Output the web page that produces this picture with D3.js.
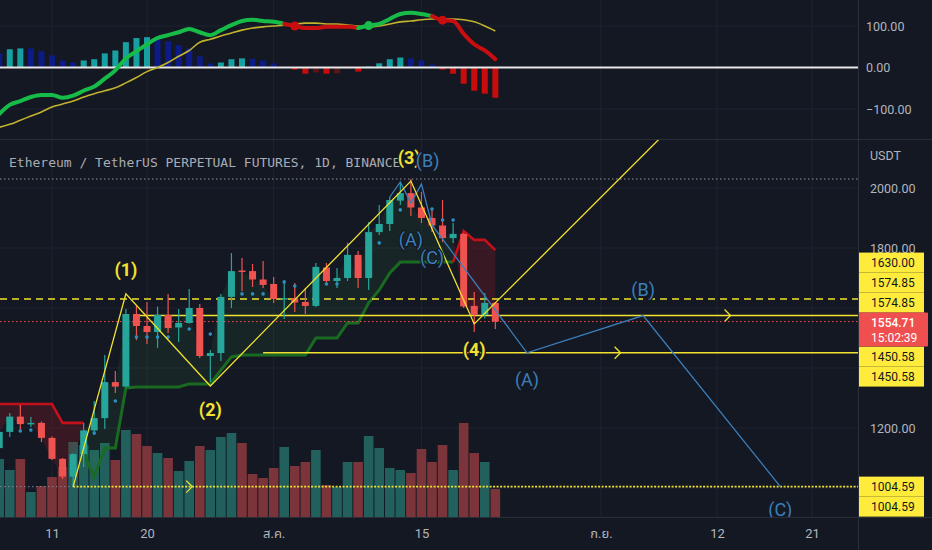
<!DOCTYPE html>
<html><head><meta charset="utf-8">
<script src="https://cdnjs.cloudflare.com/ajax/libs/d3/7.8.5/d3.min.js"></script>
<style>
html,body{margin:0;padding:0;background:#141823;overflow:hidden;}
svg{display:block;}
</style></head><body>
<svg id="chart" width="932" height="550"></svg>
<script>
// ---------- DATA ----------
const dates = ["2022-07-06","2022-07-07","2022-07-08","2022-07-09","2022-07-10","2022-07-11","2022-07-12","2022-07-13","2022-07-14","2022-07-15",
"2022-07-16","2022-07-17","2022-07-18","2022-07-19","2022-07-20","2022-07-21","2022-07-22","2022-07-23","2022-07-24","2022-07-25",
"2022-07-26","2022-07-27","2022-07-28","2022-07-29","2022-07-30","2022-07-31","2022-08-01","2022-08-02","2022-08-03","2022-08-04",
"2022-08-05","2022-08-06","2022-08-07","2022-08-08","2022-08-09","2022-08-10","2022-08-11","2022-08-12","2022-08-13","2022-08-14",
"2022-08-15","2022-08-16","2022-08-17","2022-08-18","2022-08-19","2022-08-20","2022-08-21","2022-08-22"];
const opens  = [1133,1187,1238,1213,1217,1167,1097,1038,1113,1192,1233,1353,1338,1580,1540,1520,1577,1535,1550,1600,1440,1450,1637,1725,1723,1695,1680,1630,1632,1620,1607,1735,1690,1700,1777,1700,1853,1880,1958,1983,1935,1900,1875,1833,1847,1607,1577,1617];
const highs  = [1195,1250,1277,1237,1222,1172,1100,1115,1217,1290,1443,1390,1597,1610,1620,1605,1647,1597,1663,1613,1460,1647,1783,1767,1747,1757,1703,1690,1683,1667,1750,1750,1733,1817,1790,1887,1943,1970,2020,2030,1987,1933,1960,1883,1850,1653,1650,1620];
const lows   = [1125,1170,1187,1203,1153,1093,1030,1005,1070,1177,1197,1317,1335,1493,1480,1467,1517,1487,1548,1433,1353,1423,1600,1657,1670,1667,1617,1563,1587,1580,1603,1680,1667,1690,1667,1660,1843,1857,1943,1907,1883,1853,1820,1817,1600,1520,1565,1530];
const closes = [1187,1238,1213,1217,1167,1097,1038,1113,1192,1233,1353,1338,1580,1540,1520,1577,1533,1550,1600,1440,1450,1637,1723,1722,1695,1677,1630,1633,1618,1607,1737,1690,1700,1777,1700,1853,1880,1960,1983,1935,1900,1875,1833,1847,1605,1577,1617,1554.71];
const volumes = [58,47,58,25,31,40,50,75,72,67,74,57,87,83,71,64,59,46,56,71,67,80,84,74,43,39,49,70,51,55,67,32,30,55,55,81,69,49,47,44,68,55,72,47,94,64,55,28];

// oscillator pane
const momentum    = [34,44,46,46,39,29,17,12,17,20,34,41,61,71,73,71,63,54,46,27,10,12,20,22,21,17,10,2,-5,-15,-12,-15,-14,-2,-10,2,10,20,24,22,17,7,-5,-15,-39,-56,-63,-73];
const waveMain    = [-112,-90,-81,-71,-66,-66,-73,-68,-56,-46,-27,-7,22,39,56,71,78,85,93,85,78,90,102,112,115,112,110,105,100,95,95,98,98,98,95,101,105,117,129,132,129,124,114,112,81,56,41,20];
const waveSignal  = [-144,-137,-127,-117,-107,-95,-88,-81,-71,-63,-56,-49,-37,-24,-10,0,12,27,41,61,68,76,83,90,95,98,100,102,105,107,107,105,105,102,100,98,100,105,110,112,115,117,117,117,115,110,100,88];

// support (green) and resistance (red) trail lines
const supportDates  = ["2022-07-14","2022-07-15","2022-07-16","2022-07-17","2022-07-18","2022-07-19","2022-07-20","2022-07-21","2022-07-22","2022-07-23","2022-07-24","2022-07-25","2022-07-26","2022-07-27","2022-07-28","2022-07-29","2022-07-30","2022-07-31","2022-08-01","2022-08-02","2022-08-03","2022-08-04","2022-08-05","2022-08-06","2022-08-07","2022-08-08","2022-08-09","2022-08-10","2022-08-11","2022-08-12","2022-08-13","2022-08-14","2022-08-15","2022-08-16","2022-08-17","2022-08-18"];
const supportValues = [1117,1037,1133,1133,1333,1337,1337,1337,1337,1337,1347,1347,1347,1393,1437,1443,1443,1443,1443,1443,1443,1443,1500,1500,1500,1550,1550,1617,1660,1717,1753,1753,1753,1753,1753,1753];
const resistLeftDates  = ["2022-07-06","2022-07-07","2022-07-08","2022-07-09","2022-07-10","2022-07-11","2022-07-12","2022-07-13","2022-07-14"];
const resistLeftValues = [1280,1280,1280,1280,1280,1280,1217,1217,1217];
const resistRightDates  = ["2022-08-18","2022-08-19","2022-08-20","2022-08-21","2022-08-22"];
const resistRightValues = [1753,1857,1827,1827,1793];
const trailDotDates  = ["2022-07-08","2022-07-09","2022-07-15","2022-07-17","2022-07-19","2022-07-20","2022-07-21","2022-07-22","2022-07-24","2022-07-26","2022-07-29","2022-07-30","2022-07-31","2022-08-02","2022-08-03","2022-08-06","2022-08-07","2022-08-11","2022-08-13","2022-08-16","2022-08-17","2022-08-18"];
const trailDotValues = [1190,1193,1183,1290,1503,1503,1503,1503,1530,1513,1647,1647,1647,1687,1673,1680,1680,1817,1927,1930,1893,1893];

// Elliott wave drawings
const yellowWaveDates  = ["2022-07-13","2022-07-18","2022-07-26","2022-08-14","2022-08-20","2022-09-07"];
const yellowWavePrices = [1004.59,1647,1340,2023,1547,2180];
const blueWaveDates  = ["2022-08-12","2022-08-13","2022-08-14","2022-08-15","2022-08-16","2022-08-25","2022-09-05","2022-09-18"];
const blueWavePrices = [1970,2020,1950,2013,1877,1450.58,1574.85,1004.59];
const waveLabelTexts  = ["(1)","(2)","(3)","(4)","(B)","(A)","(C)","(A)","(B)","(C)"];
const waveLabelDates  = ["2022-07-18","2022-07-26","2022-08-13T20:00:00Z","2022-08-20","2022-08-15T14:00:00Z","2022-08-14","2022-08-16","2022-08-25","2022-09-05","2022-09-18"];
const waveLabelPrices = [1727,1260,2103,1460,2093,1827,1767,1360,1660,927];
const waveLabelKinds  = ["y","y","y","y","b","b","b","b","b","b"];

// horizontal levels
const levelPrices = [2030,1630,1574.85,1554.71,1450.58,1004.59];
const levelKinds  = ["high","dash","solid","last","solid","dot"];
const levelFrom   = [null,null,"2022-07-19",null,"2022-07-31","2022-07-13"];
const levelArrow  = [null,null,"2022-09-13",null,"2022-09-02T14:00:00Z","2022-07-24"];

// axis
const tickDates  = ["2022-07-11","2022-07-20","2022-08-01","2022-08-15","2022-09-01","2022-09-12","2022-09-21"];
const tickLabels = ["11","20","ส.ค.","15","ก.ย.","12","21"];
const gridPrices = [1000,1200,1400,1600,1800,2000];
const priceTicks = [1200,1800,2000];
const oscTicks   = [100,0,-100];
const oscTickLabels = ["100.00","0.00","−100.00"];
const lastPrice = 1554.71, countdown = "15:02:39";
const axisLabelPrices = [1630,1574.85,1574.85,1450.58,1450.58,1004.59,1004.59];
const title = "Ethereum / TetherUS PERPETUAL FUTURES, 1D, BINANCE";

// ---------- LAYOUT / STYLE ----------
const W=932,H=550,AX=858;
const P1={top:0,bottom:139}, P2={top:140,bottom:517};
const C = {bg:"#141823",grid:"#1f2330",sep:"#2a2e39",text:"#b2b5be",up:"#26a69a",down:"#ef5350",
  volUp:"#22605e",volDown:"#7a343a",yellow:"#f2e230",blue:"#3b7fbb",
  hTeal:"#17a0a2",hNavy:"#0c1b86",hRed:"#c80c0c",hDark:"#5a1519",
  lgreen:"#16bb48",lred:"#c80e0e",signal:"#c2b22e"};
const P = d3.isoParse;
const svg = d3.select("#chart");
const x  = d3.scaleUtc().domain([P("2022-07-11"),P("2022-09-21")]).range([52,812]);
const y  = d3.scaleLinear().domain([1000,2000]).range([488,188]);
const yi = d3.scaleLinear().domain([-100,100]).range([109,26]);
const yv = d3.scaleLinear().domain([0,100]).range([P2.bottom,P2.bottom-100]);

svg.append("rect").attr("width",W).attr("height",H).attr("fill",C.bg);
const defs = svg.append("defs");
defs.append("clipPath").attr("id","c1").append("rect").attr("x",0).attr("y",P1.top).attr("width",AX).attr("height",P1.bottom-P1.top);
defs.append("clipPath").attr("id","c2").append("rect").attr("x",0).attr("y",P2.top).attr("width",AX).attr("height",P2.bottom-P2.top);

const candles = dates.map((d,i)=>({t:P(d),o:opens[i],h:highs[i],l:lows[i],c:closes[i],v:volumes[i]}));
const closeAt = new Map(candles.map(c=>[+c.t,c.c]));

// ---------- GRID ----------
const grid = svg.append("g");
tickDates.forEach(d=>{
  grid.append("line").attr("x1",x(P(d))).attr("x2",x(P(d))).attr("y1",0).attr("y2",P2.bottom).attr("stroke",C.grid);
});
gridPrices.forEach(p=>grid.append("line").attr("x1",0).attr("x2",AX).attr("y1",y(p)).attr("y2",y(p)).attr("stroke",C.grid));
[100,-100].forEach(v=>grid.append("line").attr("x1",0).attr("x2",AX).attr("y1",yi(v)).attr("y2",yi(v)).attr("stroke",C.grid));

// ---------- OSCILLATOR PANE ----------
const g1 = svg.append("g").attr("clip-path","url(#c1)");
const ind = dates.map((d,i)=>({t:P(d),h:momentum[i],m:waveMain[i],s:waveSignal[i]}));
g1.selectAll("rect.h").data(ind).join("rect")
  .attr("x",d=>x(d.t)-3).attr("width",6)
  .attr("y",d=>Math.min(yi(d.h),yi(0))).attr("height",d=>Math.max(1,Math.abs(yi(d.h)-yi(0))))
  .attr("fill",(d,i)=>{const prev=i>0?ind[i-1].h:d.h;
     if(d.h>=0) return d.h>prev?C.hTeal:C.hNavy; return d.h<prev?C.hRed:C.hDark;});
g1.append("line").attr("x1",0).attr("x2",AX).attr("y1",yi(0)).attr("y2",yi(0)).attr("stroke","#e8e8e8").attr("stroke-width",2);
g1.append("path").datum(ind).attr("fill","none").attr("stroke",C.signal).attr("stroke-width",1.6)
  .attr("d",d3.line().x(d=>x(d.t)).y(d=>yi(d.s)).curve(d3.curveMonotoneX));
const upState = i=>ind[i].m>=ind[i].s;
const runs=[]; let cur=null;
for(let i=1;i<ind.length;i++){
  const col = upState(i)?C.lgreen:C.lred;
  if(!cur||cur.col!==col){cur={col,pts:[ind[i-1]]};runs.push(cur);}
  cur.pts.push(ind[i]);
}
runs.forEach(r=>g1.append("path").datum(r.pts).attr("fill","none").attr("stroke",r.col).attr("stroke-width",4)
  .attr("stroke-linecap","round").attr("stroke-linejoin","round")
  .attr("d",d3.line().x(d=>x(d.t)).y(d=>yi(d.m)).curve(d3.curveMonotoneX)));
for(let i=1;i<ind.length;i++) if(upState(i)!==upState(i-1))
  g1.append("circle").attr("cx",x(ind[i].t)).attr("cy",yi(ind[i].m)).attr("r",4.5).attr("fill",upState(i)?C.lgreen:C.lred);

// ---------- MAIN PANE ----------
const g2 = svg.append("g").attr("clip-path","url(#c2)");
// volume
g2.selectAll("rect.v").data(candles).join("rect")
  .attr("x",d=>x(d.t)-4.8).attr("width",9.6).attr("y",d=>yv(d.v)).attr("height",d=>yv(0)-yv(d.v))
  .attr("fill",d=>d.c>=d.o?C.volUp:C.volDown);
// trail fills and lines
const sup = supportDates.map((d,i)=>({t:P(d),v:supportValues[i]}));
const rl = resistLeftDates.map((d,i)=>({t:P(d),v:resistLeftValues[i]}));
const rr = resistRightDates.map((d,i)=>({t:P(d),v:resistRightValues[i]}));
const area = d3.area().x(d=>x(d.t)).y0(d=>y(d.v)).y1(d=>y(closeAt.get(+d.t)));
g2.append("path").datum(sup).attr("fill","rgba(60,160,70,0.10)").attr("d",area);
[rl,rr].forEach(s=>g2.append("path").datum(s).attr("fill","rgba(150,25,35,0.28)").attr("d",area));
const tl = d3.line().x(d=>x(d.t)).y(d=>y(d.v));
g2.append("path").datum(sup).attr("fill","none").attr("stroke","#1a6b22").attr("stroke-width",3).attr("d",tl);
[rl,rr].forEach(s=>g2.append("path").datum(s).attr("fill","none").attr("stroke","#c4101a").attr("stroke-width",2.6).attr("d",tl));

// horizontal levels
levelPrices.forEach((p,i)=>{
  const k=levelKinds[i], x0=levelFrom[i]?x(P(levelFrom[i])):0, yy=y(p);
  const ln=g2.append("line").attr("x1",x0).attr("x2",AX).attr("y1",yy).attr("y2",yy);
  if(k==="high") ln.attr("stroke","#8c8f98").attr("stroke-width",1).attr("stroke-dasharray","1.5,2.5");
  if(k==="dash") ln.attr("stroke",C.yellow).attr("stroke-width",1.5).attr("stroke-dasharray","7,5");
  if(k==="solid") ln.attr("stroke",C.yellow).attr("stroke-width",1.5);
  if(k==="last") ln.attr("stroke",C.down).attr("stroke-width",1).attr("stroke-dasharray","1.5,2.5");
  if(k==="dot"){
    g2.append("line").attr("x1",0).attr("x2",x0).attr("y1",yy).attr("y2",yy).attr("stroke","#80838c").attr("stroke-width",1).attr("stroke-dasharray","1.5,2.5");
    ln.attr("stroke",C.yellow).attr("stroke-width",1.6).attr("stroke-dasharray","2,1.5");
  }
  if(levelArrow[i]){const ax=x(P(levelArrow[i]));
    g2.append("path").attr("d",`M${ax-3},${yy-6}L${ax+3},${yy}L${ax-3},${yy+6}`).attr("fill","none").attr("stroke",C.yellow).attr("stroke-width",1.3);}
});

// candles
const cg = g2.append("g");
candles.forEach(d=>{
  const col=d.c>=d.o?C.up:C.down, cx=x(d.t);
  cg.append("line").attr("x1",cx).attr("x2",cx).attr("y1",y(d.h)).attr("y2",y(d.l)).attr("stroke",col).attr("stroke-width",1.2);
  const top=y(Math.max(d.o,d.c)), bot=y(Math.min(d.o,d.c));
  cg.append("rect").attr("x",cx-3.5).attr("width",7).attr("y",top).attr("height",Math.max(1.5,bot-top)).attr("fill",col);
});
// trail dots
trailDotDates.forEach((d,i)=>g2.append("circle").attr("cx",x(P(d))).attr("cy",y(trailDotValues[i])).attr("r",1.8).attr("fill","#2b8fbf"));

// waves
const wl = (ds,ps)=>ds.map((d,i)=>({t:P(d),p:ps[i]}));
const wline = d3.line().x(d=>x(d.t)).y(d=>y(d.p));
g2.append("path").datum(wl(blueWaveDates,blueWavePrices)).attr("fill","none").attr("stroke",C.blue).attr("stroke-width",1.3).attr("d",wline);
g2.append("path").datum(wl(yellowWaveDates,yellowWavePrices)).attr("fill","none").attr("stroke",C.yellow).attr("stroke-width",1.3).attr("d",wline);

// title
g2.append("text").attr("x",9).attr("y",167).attr("fill","#a9acb5").attr("font-family","'DejaVu Sans Mono',monospace").attr("font-size",13).text(title);

// wave labels
waveLabelTexts.forEach((t,i)=>{
  g2.append("text").attr("x",x(P(waveLabelDates[i]))).attr("y",y(waveLabelPrices[i])).attr("dy","0.36em")
    .attr("text-anchor","middle").attr("font-family","Roboto,'Noto Sans',sans-serif").attr("font-size",18)
    .attr("font-weight",waveLabelKinds[i]==="y"?700:400)
    .attr("fill",waveLabelKinds[i]==="y"?C.yellow:C.blue)
    .attr("stroke",C.bg).attr("stroke-width",2.5).attr("paint-order","stroke").text(t);
});

// ---------- SEPARATORS ----------
svg.append("line").attr("x1",0).attr("x2",W).attr("y1",139.5).attr("y2",139.5).attr("stroke",C.sep);
svg.append("line").attr("x1",AX+0.5).attr("x2",AX+0.5).attr("y1",0).attr("y2",H).attr("stroke",C.sep);
svg.append("line").attr("x1",0).attr("x2",W).attr("y1",P2.bottom+0.5).attr("y2",P2.bottom+0.5).attr("stroke",C.sep);

// ---------- AXES ----------
const font="Roboto,'Noto Sans',sans-serif";
const xa = svg.append("g").attr("transform",`translate(0,${P2.bottom})`)
  .call(d3.axisBottom(x).tickValues(tickDates.map(d=>P(d))).tickFormat((d,i)=>tickLabels[i]).tickSize(0).tickPadding(12));
xa.select(".domain").remove();
xa.selectAll("text").attr("fill",C.text).attr("font-size",13).attr("font-family","Roboto,'Noto Sans','Noto Sans Thai','DejaVu Sans',sans-serif");

const ya = svg.append("g").attr("transform",`translate(${AX},0)`)
  .call(d3.axisRight(y).tickValues(priceTicks).tickFormat(d3.format(".2f")).tickSize(0).tickPadding(12));
ya.select(".domain").remove();
ya.selectAll("text").attr("fill",C.text).attr("font-size",12.5).attr("font-family",font);
svg.append("text").attr("x",AX+12).attr("y",156).attr("dy","0.35em").attr("fill",C.text).attr("font-size",12.5).attr("font-family",font).text("USDT");

const ia = svg.append("g").attr("transform",`translate(${AX},0)`)
  .call(d3.axisRight(yi).tickValues(oscTicks).tickFormat((d,i)=>oscTickLabels[i]).tickSize(0).tickPadding(8));
ia.select(".domain").remove();
ia.selectAll("text").attr("fill",C.text).attr("font-size",12.5).attr("font-family",font);

// price labels (stacked around last price)
const lab = svg.append("g");
const lastY = y(lastPrice), boxTop = lastY-9, boxBot = boxTop+34;
const above = axisLabelPrices.filter(p=>p>lastPrice).sort((a,b)=>a-b);
const below = axisLabelPrices.filter(p=>p<lastPrice).sort((a,b)=>b-a);
const placed=[];
let lim=boxTop; above.forEach(p=>{const c=Math.min(y(p),lim-10); placed.push([p,c]); lim=c-10;});
lim=boxBot; below.forEach(p=>{const c=Math.max(y(p),lim+10); placed.push([p,c]); lim=c+10;});
placed.forEach(([p,c])=>{
  lab.append("rect").attr("x",AX+1).attr("y",c-10).attr("width",65).attr("height",20).attr("fill","#ffeb3b");
});
placed.forEach(([p,c])=>{
  lab.append("text").attr("x",AX+13).attr("y",c).attr("dy","0.36em").attr("fill","#131722").attr("font-size",12).attr("font-family",font).text(d3.format(".2f")(p));
});
lab.append("rect").attr("x",AX+1).attr("y",boxTop).attr("width",69).attr("height",34).attr("fill","#f04f4f").attr("rx",1);
lab.append("text").attr("x",AX+13).attr("y",lastY+1).attr("dy","0.36em").attr("fill","#fff").attr("font-size",12).attr("font-weight",500).attr("font-family",font).text(d3.format(".2f")(lastPrice));
lab.append("text").attr("x",AX+13).attr("y",lastY+16).attr("dy","0.36em").attr("fill","#fff").attr("font-size",12).attr("font-family",font).text(countdown);
</script>
</body></html>
